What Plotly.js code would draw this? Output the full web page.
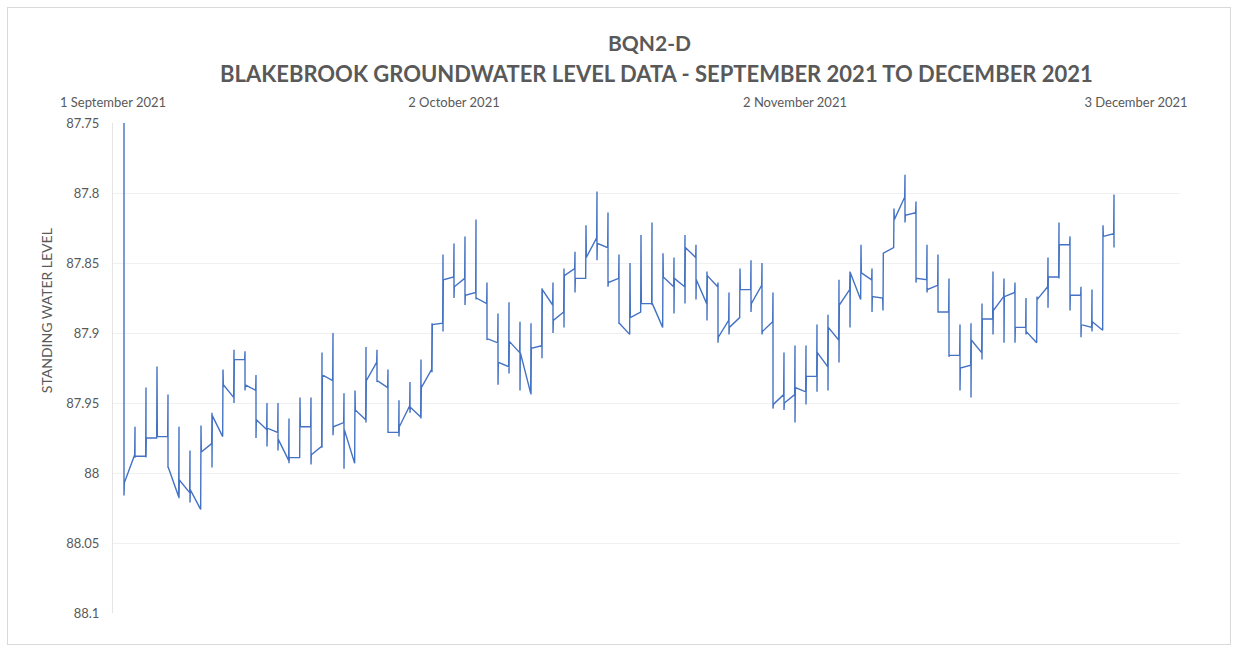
<!DOCTYPE html>
<html><head><meta charset="utf-8">
<script src="https://cdn.plot.ly/plotly-3.0.1.min.js"></script>
<style>
html,body{margin:0;padding:0;background:#fff;}
#chart{width:1237px;height:650px;}
#frame{position:absolute;left:7px;top:7px;width:1222px;height:636px;border:1px solid #d9d9d9;pointer-events:none;}
</style>
</head><body>
<div id="chart"></div><div id="frame"></div>
<script>
// Daily readings: one spike per day starting 2 September 2021
const firstSpikeDate = '2021-09-02';
const spikeTop = [87.750,87.967,87.939,87.924,87.944,87.967,87.984,87.966,87.957,87.926,
87.912,87.913,87.930,87.950,87.950,87.961,87.946,87.946,87.914,87.900,
87.943,87.941,87.910,87.912,87.926,87.948,87.935,87.919,87.893,87.844,
87.836,87.831,87.819,87.864,87.886,87.878,87.892,87.893,87.868,87.864,
87.854,87.842,87.823,87.799,87.814,87.844,87.850,87.830,87.821,87.843,
87.846,87.830,87.837,87.856,87.864,87.871,87.854,87.848,87.850,87.871,
87.914,87.909,87.909,87.894,87.887,87.862,87.856,87.837,87.854,87.843,
87.811,87.787,87.806,87.837,87.844,87.861,87.894,87.893,87.879,87.856,
87.861,87.864,87.875,87.874,87.846,87.821,87.831,87.867,87.869,87.823,87.801];
const spikeBottom = [88.016,87.989,87.989,87.975,87.996,88.018,88.021,88.026,87.996,87.974,
87.950,87.941,87.975,87.981,87.984,87.993,87.989,87.994,87.982,87.973,
87.997,87.993,87.964,87.935,87.971,87.974,87.957,87.961,87.928,87.899,
87.875,87.880,87.876,87.905,87.937,87.929,87.941,87.944,87.918,87.900,
87.896,87.871,87.861,87.848,87.867,87.893,87.901,87.885,87.880,87.896,
87.886,87.879,87.876,87.891,87.907,87.901,87.889,87.885,87.901,87.954,
87.955,87.964,87.951,87.942,87.941,87.921,87.896,87.876,87.885,87.884,
87.839,87.821,87.864,87.871,87.885,87.917,87.941,87.946,87.919,87.901,
87.907,87.907,87.901,87.907,87.882,87.861,87.884,87.903,87.899,87.898,87.839];
const dayStart = [88.007,87.988,87.975,87.974,87.996,88.005,88.012,87.985,87.959,87.937,
87.919,87.937,87.962,87.968,87.976,87.989,87.967,87.987,87.930,87.967,
87.969,87.955,87.934,87.934,87.971,87.967,87.953,87.939,87.894,87.862,
87.867,87.873,87.875,87.904,87.921,87.906,87.914,87.911,87.869,87.891,
87.859,87.861,87.846,87.836,87.864,87.893,87.889,87.879,87.879,87.860,
87.861,87.839,87.862,87.859,87.903,87.896,87.869,87.879,87.899,87.951,
87.950,87.939,87.931,87.914,87.896,87.880,87.857,87.857,87.874,87.843,
87.819,87.816,87.861,87.869,87.885,87.916,87.925,87.905,87.890,87.884,
87.874,87.896,87.899,87.876,87.860,87.837,87.873,87.894,87.892,87.831,null];
const dayEnd = [87.987,87.988,87.975,87.974,88.017,88.014,88.026,87.979,87.974,87.946,
87.919,87.941,87.969,87.971,87.991,87.989,87.967,87.981,87.934,87.964,
87.993,87.962,87.921,87.939,87.971,87.952,87.960,87.926,87.893,87.860,
87.861,87.871,87.879,87.907,87.924,87.914,87.943,87.909,87.880,87.885,
87.854,87.861,87.832,87.839,87.861,87.901,87.885,87.879,87.896,87.867,
87.867,87.846,87.879,87.867,87.891,87.889,87.869,87.866,87.892,87.944,
87.944,87.942,87.931,87.924,87.905,87.869,87.876,87.862,87.875,87.839,
87.803,87.814,87.862,87.866,87.885,87.916,87.923,87.914,87.890,87.874,
87.871,87.896,87.907,87.867,87.860,87.837,87.873,87.896,87.898,87.829,null];

const xTickDates = ['2021-09-01','2021-10-02','2021-11-02','2021-12-03'];
const xTickLabels = ['1 September 2021','2 October 2021','2 November 2021','3 December 2021'];
const yTickVals = [87.75,87.8,87.85,87.9,87.95,88,88.05,88.1];
const yTickLabels = ['87.75','87.8','87.85','87.9','87.95','88','88.05','88.1'];

const DAY = 86400000;
const t0 = Date.parse(firstSpikeDate + 'T00:00:00Z');
function iso(ms){ return new Date(ms).toISOString().slice(0,19).replace('T',' '); }
const xs = [], ys = [];
for (let i = 0; i < spikeTop.length; i++) {
  const t = t0 + i * DAY;
  xs.push(iso(t)); ys.push(spikeTop[i]);
  xs.push(iso(t)); ys.push(spikeBottom[i]);
  if (dayStart[i] !== null) {
    xs.push(iso(t + 0.03 * DAY)); ys.push(dayStart[i]);
    xs.push(iso(t + 0.97 * DAY)); ys.push(dayEnd[i]);
  }
}

const trace = {
  type: 'scatter', mode: 'lines', x: xs, y: ys,
  line: {color: '#4472C4', width: 1.4},
  hoverinfo: 'x+y'
};

const layout = {
  width: 1237, height: 650,
  margin: {l: 113, r: 57, t: 123, b: 37},
  paper_bgcolor: '#ffffff', plot_bgcolor: '#ffffff',
  font: {family: 'Lato, "Open Sans", sans-serif', color: '#595959', size: 13},
  showlegend: false,
  xaxis: {
    type: 'date', side: 'top', range: ['2021-09-01', '2021-12-07'],
    tickmode: 'array', tickvals: xTickDates, ticktext: xTickLabels,
    showgrid: false, zeroline: false, showline: false, ticks: '',
    ticklabelstandoff: 12, tickfont: {size: 13, color: '#595959'}
  },
  yaxis: {
    range: [88.1, 87.75], tickmode: 'array', tickvals: yTickVals, ticktext: yTickLabels,
    showgrid: true, gridcolor: '#f0f0f0', gridwidth: 1, zeroline: false,
    showline: true, linecolor: '#e4e4e4', linewidth: 1, ticks: '',
    ticklabelstandoff: 10, tickfont: {size: 13, color: '#595959'}
  },
  annotations: [
    {text: '<b>BQN2-D</b>', xref: 'paper', yref: 'paper', x: 0.503, y: 1.165,
     xanchor: 'center', yanchor: 'middle', showarrow: false,
     font: {size: 21, color: '#595959', family: 'Lato, sans-serif'}},
    {text: '<b>BLAKEBROOK GROUNDWATER LEVEL DATA - SEPTEMBER 2021 TO DECEMBER 2021</b>',
     xref: 'paper', yref: 'paper', x: 0.509, y: 1.102,
     xanchor: 'center', yanchor: 'middle', showarrow: false,
     font: {size: 22, color: '#595959', family: 'Lato, sans-serif'}},
    {text: 'STANDING WATER LEVEL', xref: 'paper', yref: 'paper', x: -0.0628, y: 0.618,
     xanchor: 'center', yanchor: 'middle', textangle: -90, showarrow: false,
     font: {size: 14, color: '#595959', family: 'Lato, sans-serif'}}
  ]
};

Plotly.newPlot('chart', [trace], layout, {displayModeBar: false, staticPlot: true});
</script>
</body></html>
